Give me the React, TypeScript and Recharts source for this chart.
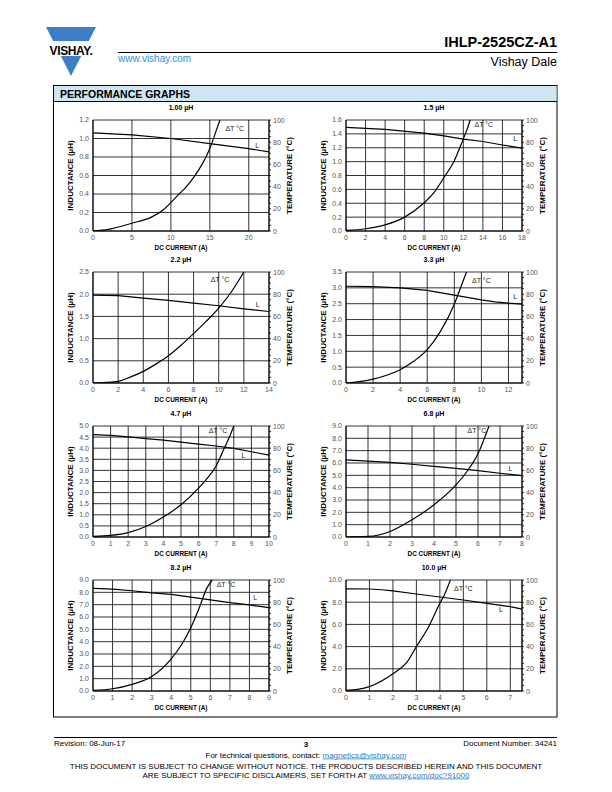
import React from 'react';
import { LineChart, Line, XAxis, YAxis, CartesianGrid, ReferenceDot } from 'recharts';

// inductance (L, µH) and temperature rise (ΔT, °C) vs DC current (A)
const l100 = [
  { a: 0, v: 1.06 }, { a: 5, v: 1.04 }, { a: 10, v: 1.0 }, { a: 15, v: 0.945 }, { a: 20, v: 0.89 }, { a: 22.6, v: 0.855 },
];
const t100 = [
  { a: 0, v: 0 }, { a: 2, v: 1.5 }, { a: 5, v: 7 }, { a: 7.5, v: 12.5 }, { a: 9, v: 19 }, { a: 11, v: 33 },
  { a: 12, v: 40 }, { a: 13, v: 49 }, { a: 14, v: 60 }, { a: 14.6, v: 68 }, { a: 15.2, v: 78 }, { a: 15.8, v: 90 }, { a: 16.3, v: 100 },
];
const l150 = [
  { a: 0, v: 1.495 }, { a: 4, v: 1.465 }, { a: 8, v: 1.41 }, { a: 10, v: 1.37 }, { a: 12, v: 1.325 },
  { a: 14, v: 1.29 }, { a: 16, v: 1.24 }, { a: 18, v: 1.195 },
];
const t150 = [
  { a: 0, v: 0.5 }, { a: 2, v: 2 }, { a: 4, v: 5.5 }, { a: 6, v: 12.5 }, { a: 8, v: 25.5 }, { a: 9, v: 34.5 },
  { a: 10, v: 48 }, { a: 11, v: 62 }, { a: 12, v: 83 }, { a: 12.4, v: 92 }, { a: 12.7, v: 100 },
];
const l220 = [
  { a: 0, v: 1.98 }, { a: 2, v: 1.97 }, { a: 4, v: 1.91 }, { a: 6, v: 1.86 }, { a: 8, v: 1.8 },
  { a: 10, v: 1.74 }, { a: 12, v: 1.67 }, { a: 14, v: 1.61 },
];
const t220 = [
  { a: 0, v: 0 }, { a: 1, v: 0.5 }, { a: 2, v: 1.5 }, { a: 3, v: 5.5 }, { a: 4, v: 10.5 }, { a: 5, v: 17 },
  { a: 6, v: 24.5 }, { a: 7, v: 34 }, { a: 8, v: 44.5 }, { a: 9, v: 55.5 }, { a: 10, v: 67.5 }, { a: 11, v: 82 }, { a: 12, v: 100 },
];
const l330 = [
  { a: 0, v: 3.05 }, { a: 2, v: 3.04 }, { a: 4, v: 3.0 }, { a: 6, v: 2.92 }, { a: 8, v: 2.77 },
  { a: 10, v: 2.62 }, { a: 11, v: 2.56 }, { a: 12, v: 2.52 }, { a: 13, v: 2.49 },
];
const t330 = [
  { a: 0, v: 0 }, { a: 1, v: 1.2 }, { a: 2, v: 3.5 }, { a: 3, v: 7 }, { a: 4, v: 12 }, { a: 5, v: 19.5 },
  { a: 6, v: 30 }, { a: 7, v: 47 }, { a: 8, v: 71 }, { a: 8.5, v: 87 }, { a: 8.9, v: 100 },
];
const l470 = [
  { a: 0, v: 4.61 }, { a: 1, v: 4.58 }, { a: 2, v: 4.51 }, { a: 3, v: 4.43 }, { a: 4, v: 4.36 }, { a: 5, v: 4.27 },
  { a: 6, v: 4.18 }, { a: 7, v: 4.1 }, { a: 8, v: 3.99 }, { a: 9, v: 3.84 }, { a: 10, v: 3.69 },
];
const t470 = [
  { a: 0, v: 0.5 }, { a: 1, v: 1.5 }, { a: 2, v: 4 }, { a: 3, v: 9.5 }, { a: 4, v: 18 }, { a: 5, v: 29 },
  { a: 6, v: 44 }, { a: 6.5, v: 53 }, { a: 7, v: 64 }, { a: 7.5, v: 81.5 }, { a: 7.75, v: 90 }, { a: 8, v: 100 },
];
const l680 = [
  { a: 0, v: 6.25 }, { a: 1, v: 6.15 }, { a: 2, v: 6.05 }, { a: 3, v: 5.9 }, { a: 4, v: 5.73 },
  { a: 5, v: 5.56 }, { a: 6, v: 5.38 }, { a: 7, v: 5.17 }, { a: 8, v: 4.97 },
];
const t680 = [
  { a: 0, v: 0 }, { a: 1, v: 0.5 }, { a: 2, v: 5 }, { a: 3, v: 15.5 }, { a: 4, v: 29 },
  { a: 5, v: 47 }, { a: 5.5, v: 59 }, { a: 6, v: 75 }, { a: 6.5, v: 100 },
];
const l820 = [
  { a: 0, v: 8.32 }, { a: 1, v: 8.26 }, { a: 2, v: 8.13 }, { a: 3, v: 7.96 }, { a: 4, v: 7.83 },
  { a: 5, v: 7.61 }, { a: 6, v: 7.39 }, { a: 7, v: 7.17 }, { a: 8, v: 6.98 }, { a: 9, v: 6.76 },
];
const t820 = [
  { a: 0, v: 0.5 }, { a: 1, v: 2 }, { a: 2, v: 6 }, { a: 3, v: 13 }, { a: 4, v: 29 }, { a: 4.5, v: 41 },
  { a: 5, v: 57 }, { a: 5.5, v: 78 }, { a: 5.8, v: 92 }, { a: 6.1, v: 100 },
];
const l1000 = [
  { a: 0, v: 9.2 }, { a: 1, v: 9.19 }, { a: 1.5, v: 9.12 }, { a: 2, v: 9.02 }, { a: 3, v: 8.74 }, { a: 4, v: 8.47 },
  { a: 5, v: 8.2 }, { a: 6, v: 7.9 }, { a: 7, v: 7.6 }, { a: 7.5, v: 7.37 },
];
const t1000 = [
  { a: 0, v: 0.5 }, { a: 0.5, v: 1.5 }, { a: 1, v: 4 }, { a: 2, v: 15.5 }, { a: 2.6, v: 26 }, { a: 3, v: 40 },
  { a: 3.5, v: 57 }, { a: 4, v: 79 }, { a: 4.2, v: 87 }, { a: 4.45, v: 100 },
];

// tick labels
const x100 = [0, 5, 10, 15, 20];
const y100 = [0, 0.2, 0.4, 0.6, 0.8, 1.0, 1.2];
const x150 = [0, 2, 4, 6, 8, 10, 12, 14, 16, 18];
const y150 = [0, 0.2, 0.4, 0.6, 0.8, 1.0, 1.2, 1.4, 1.6];
const x220 = [0, 2, 4, 6, 8, 10, 12, 14];
const y220 = [0, 0.5, 1.0, 1.5, 2.0, 2.5];
const x330 = [0, 2, 4, 6, 8, 10, 12];
const y330 = [0, 0.5, 1.0, 1.5, 2.0, 2.5, 3.0, 3.5];
const x470 = [0, 1, 2, 3, 4, 5, 6, 7, 8, 9, 10];
const y470 = [0, 0.5, 1.0, 1.5, 2.0, 2.5, 3.0, 3.5, 4.0, 4.5, 5.0];
const x680 = [0, 1, 2, 3, 4, 5, 6, 7, 8];
const y680 = [0, 1, 2, 3, 4, 5, 6, 7, 8, 9];
const x820 = [0, 1, 2, 3, 4, 5, 6, 7, 8, 9];
const y820 = [0, 1, 2, 3, 4, 5, 6, 7, 8, 9];
const x1000 = [0, 1, 2, 3, 4, 5, 6, 7];
const y1000 = [0, 2, 4, 6, 8, 10];
const tempTicks = [0, 5, 10, 15, 20, 25, 30, 35, 40, 45, 50, 55, 60, 65, 70, 75, 80, 85, 90, 95, 100];

const FONT = '"Liberation Sans", Arial, Helvetica, sans-serif';
const PLOT_W = 176;
const PLOT_H = 111;
const COLS = [93, 346];
const ROWS = [120, 272, 426, 580];

const panels = [
  { title: '1.00 µH', x: COLS[0], y: ROWS[0], xMax: 22.6, xTicks: x100, yMax: 1.2, yTicks: y100, L: l100, T: t100, dt: [18.2, 92.5], lp: [21.1, 77] },
  { title: '1.5 µH', x: COLS[1], y: ROWS[0], xMax: 18, xTicks: x150, yMax: 1.6, yTicks: y150, L: l150, T: t150, dt: [14.1, 95.5], lp: [17.3, 83] },
  { title: '2.2 µH', x: COLS[0], y: ROWS[1], xMax: 14, xTicks: x220, yMax: 2.5, yTicks: y220, L: l220, T: t220, dt: [10.1, 93], lp: [13.1, 70.5] },
  { title: '3.3 µH', x: COLS[1], y: ROWS[1], xMax: 13, xTicks: x330, yMax: 3.5, yTicks: y330, L: l330, T: t330, dt: [10.0, 92], lp: [12.5, 77.5] },
  { title: '4.7 µH', x: COLS[0], y: ROWS[2], xMax: 10, xTicks: x470, yMax: 5, yTicks: y470, L: l470, T: t470, dt: [7.1, 96], lp: [8.55, 73] },
  { title: '6.8 µH', x: COLS[1], y: ROWS[2], xMax: 8, xTicks: x680, yMax: 9, yTicks: y680, L: l680, T: t680, dt: [5.95, 96], lp: [7.47, 62] },
  { title: '8.2 µH', x: COLS[0], y: ROWS[3], xMax: 9, xTicks: x820, yMax: 9, yTicks: y820, L: l820, T: t820, dt: [6.8, 95.5], lp: [8.3, 84] },
  { title: '10.0 µH', x: COLS[1], y: ROWS[3], xMax: 7.5, xTicks: x1000, yMax: 10, yTicks: y1000, L: l1000, T: t1000, dt: [5.0, 92], lp: [6.6, 73] },
];

const tickStyle = { fontSize: 7, fill: '#555', fontFamily: FONT };

const renderTempTick = (props: any) => {
  const { x, y, payload } = props;
  if (payload.value % 20 !== 0) return <g />;
  return (
    <text x={x} y={y} dy={2.5} textAnchor="start" fontSize={7} fill="#555" fontFamily={FONT}>
      {payload.value}
    </text>
  );
};

const noteLabel = (text: string) => (props: any) => {
  const { viewBox } = props;
  const cx = viewBox.x + (viewBox.width || 0) / 2;
  const cy = viewBox.y + (viewBox.height || 0) / 2;
  return (
    <text x={cx} y={cy} dy={2.5} textAnchor="middle" fontSize={7} fill="#222" fontFamily={FONT}>
      {text}
    </text>
  );
};

const Panel = ({ p }: { p: any }) => {
  const w = PLOT_W + 70;
  const h = PLOT_H + 35;
  return (
    <div style={{ position: 'absolute', left: p.x - 35, top: p.y - 5, width: w, height: h }}>
      <LineChart width={w} height={h} margin={{ top: 5, right: 0, bottom: 5, left: 0 }}>
        <CartesianGrid stroke="#000" strokeWidth={0.8} />
        <XAxis
          type="number"
          dataKey="a"
          domain={[0, p.xMax]}
          ticks={p.xTicks}
          interval={0}
          allowDataOverflow
          height={25}
          tickSize={0}
          tickMargin={4}
          tick={tickStyle}
          axisLine={{ stroke: '#000', strokeWidth: 1 }}
        />
        <YAxis
          yAxisId={0}
          width={35}
          domain={[0, p.yMax]}
          ticks={p.yTicks}
          interval={0}
          allowDataOverflow
          tickSize={0}
          tickMargin={4}
          tick={tickStyle}
          tickFormatter={(v: number) => v.toFixed(1)}
          axisLine={{ stroke: '#000', strokeWidth: 1 }}
        />
        <YAxis
          yAxisId="t"
          orientation="right"
          width={35}
          domain={[0, 100]}
          ticks={tempTicks}
          interval={0}
          allowDataOverflow
          tickSize={2}
          tickMargin={2}
          tickLine={{ stroke: '#000', strokeWidth: 0.8 }}
          tick={renderTempTick}
          axisLine={{ stroke: '#000', strokeWidth: 1 }}
        />
        <Line data={p.L} dataKey="v" yAxisId={0} type="linear" stroke="#000" strokeWidth={1.2} dot={false} isAnimationActive={false} />
        <Line data={p.T} dataKey="v" yAxisId="t" type="monotone" stroke="#000" strokeWidth={1.2} dot={false} isAnimationActive={false} />
        <ReferenceDot yAxisId="t" x={p.dt[0]} y={p.dt[1]} r={0} fill="none" stroke="none" label={noteLabel('ΔT °C')} />
        <ReferenceDot yAxisId="t" x={p.lp[0]} y={p.lp[1]} r={0} fill="none" stroke="none" label={noteLabel('L')} />
      </LineChart>
    </div>
  );
};

const PanelTexts = ({ p }: { p: any }) => {
  const cx = p.x + PLOT_W / 2;
  const cy = p.y + PLOT_H / 2;
  const lx = p.x - 22.5 + 2.8;
  const rx = p.x + PLOT_W + 20.5 + 2.8;
  return (
    <g fontFamily={FONT} fill="#000" fontWeight="bold">
      <text x={cx} y={p.y - 10} textAnchor="middle" fontSize={7}>{p.title}</text>
      <text x={lx} y={cy} textAnchor="middle" fontSize={8} transform={`rotate(-90 ${lx} ${cy})`}>INDUCTANCE (µH)</text>
      <text x={rx} y={cy} textAnchor="middle" fontSize={8} transform={`rotate(-90 ${rx} ${cy})`}>TEMPERATURE (°C)</text>
      <text x={0} y={0} textAnchor="middle" fontSize={8} transform={`translate(${cx} ${p.y + PLOT_H + 19}) scale(0.8 1)`}>DC CURRENT (A)</text>
    </g>
  );
};

export default function App() {
  return (
    <div style={{ position: 'absolute', left: 0, top: 0, width: 612, height: 792, background: '#fff', fontFamily: FONT }}>
      <svg width={612} height={792} style={{ position: 'absolute', left: 0, top: 0 }}>
        {/* logo */}
        <polygon points="46,27 96,27 71,76" fill="#3d7ec6" />
        <rect x={40} y={41} width={62} height={15} fill="#fff" />
        <text x={71} y={54.5} textAnchor="middle" fontSize={12} fontWeight="bold" fontFamily={FONT} letterSpacing={-0.4}>VISHAY.</text>

        <text x={557} y={47} textAnchor="end" fontSize={14.5} fontWeight="bold" fontFamily={FONT}>IHLP-2525CZ-A1</text>
        <line x1={118} y1={52.5} x2={557} y2={52.5} stroke="#000" strokeWidth={1} />
        <text x={118} y={62} fontSize={10} fill="#3a8fd3" fontFamily={FONT}>www.vishay.com</text>
        <text x={557} y={66} textAnchor="end" fontSize={12.5} fontFamily={FONT}>Vishay Dale</text>

        {/* performance graphs frame */}
        <rect x={53.5} y={85.5} width={503.5} height={631.5} fill="none" stroke="#000" strokeWidth={1} />
        <rect x={54} y={86} width={502.5} height={15} fill="#cfe5f2" />
        <line x1={53.5} y1={101.5} x2={557} y2={101.5} stroke="#000" strokeWidth={1} />
        <text x={60} y={97.5} fontSize={10.5} fontWeight="bold" fontFamily={FONT}>PERFORMANCE GRAPHS</text>

        {panels.map((p) => (
          <PanelTexts key={p.title} p={p} />
        ))}

        {/* footer */}
        <line x1={54} y1={737.5} x2={557} y2={737.5} stroke="#000" strokeWidth={1} />
        <g fontFamily={FONT} fontSize={8} fill="#000">
          <text x={54} y={746}>Revision: 08-Jun-17</text>
          <text x={306} y={747} textAnchor="middle" fontWeight="bold">3</text>
          <text x={557} y={746} textAnchor="end">Document Number: 34241</text>
          <text x={306} y={757.5} textAnchor="middle">
            For technical questions, contact: <tspan fill="#2a7fc4" textDecoration="underline">magnetics@vishay.com</tspan>
          </text>
          <text x={306} y={769} textAnchor="middle">THIS DOCUMENT IS SUBJECT TO CHANGE WITHOUT NOTICE. THE PRODUCTS DESCRIBED HEREIN AND THIS DOCUMENT</text>
          <text x={306} y={777.5} textAnchor="middle">
            ARE SUBJECT TO SPECIFIC DISCLAIMERS, SET FORTH AT <tspan fill="#2a7fc4" textDecoration="underline">www.vishay.com/doc?91000</tspan>
          </text>
        </g>
      </svg>
      {panels.map((p) => (
        <Panel key={p.title} p={p} />
      ))}
    </div>
  );
}
